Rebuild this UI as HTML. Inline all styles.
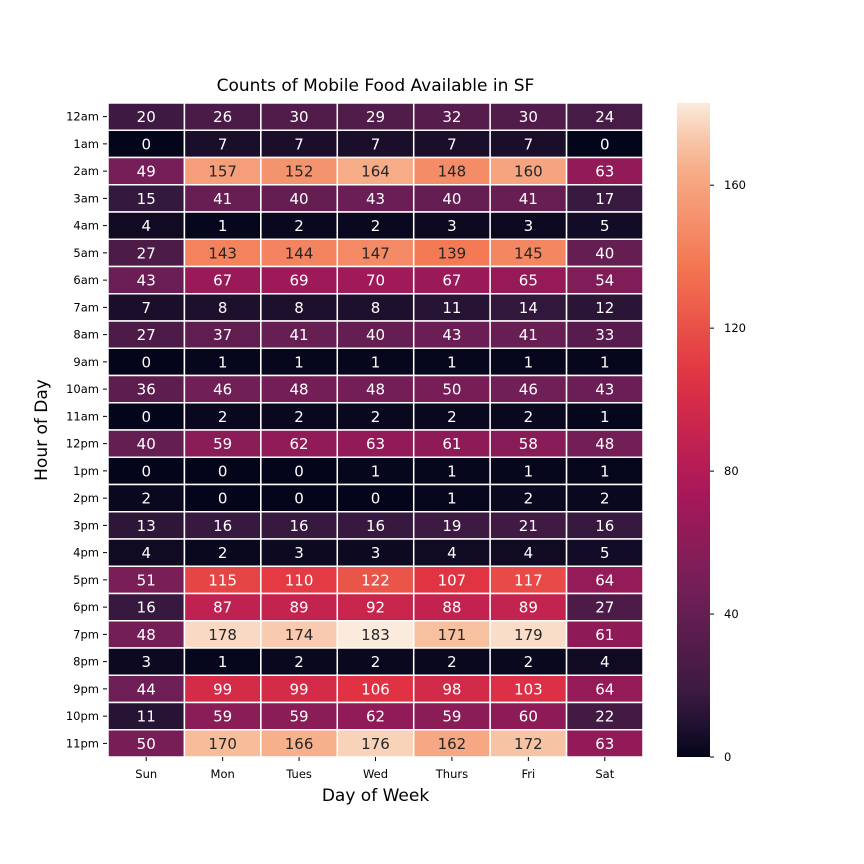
<!DOCTYPE html>
<html><head><meta charset="utf-8"><style>
body{margin:0;background:#fff}
svg{display:block;font-family:"DejaVu Sans","Liberation Sans",sans-serif}
</style></head><body>
<svg id="chart" width="864" height="864" viewBox="0 0 864 864"></svg>
<script>
const days = ["Sun","Mon","Tues","Wed","Thurs","Fri","Sat"];
const hours = ["12am","1am","2am","3am","4am","5am","6am","7am","8am","9am","10am","11am","12pm","1pm","2pm","3pm","4pm","5pm","6pm","7pm","8pm","9pm","10pm","11pm"];
const counts = [
[20,26,30,29,32,30,24],
[0,7,7,7,7,7,0],
[49,157,152,164,148,160,63],
[15,41,40,43,40,41,17],
[4,1,2,2,3,3,5],
[27,143,144,147,139,145,40],
[43,67,69,70,67,65,54],
[7,8,8,8,11,14,12],
[27,37,41,40,43,41,33],
[0,1,1,1,1,1,1],
[36,46,48,48,50,46,43],
[0,2,2,2,2,2,1],
[40,59,62,63,61,58,48],
[0,0,0,1,1,1,1],
[2,0,0,0,1,2,2],
[13,16,16,16,19,21,16],
[4,2,3,3,4,4,5],
[51,115,110,122,107,117,64],
[16,87,89,92,88,89,27],
[48,178,174,183,171,179,61],
[3,1,2,2,2,2,4],
[44,99,99,106,98,103,64],
[11,59,59,62,59,60,22],
[50,170,166,176,162,172,63]
];
const cbTicks = [0,40,80,120,160];
const vmin = 0, vmax = 183;

const svg = document.getElementById('chart');
const NS = "http://www.w3.org/2000/svg";
const X0=108, X1=643, Y0=103, Y1=757;
const cw=(X1-X0)/days.length, ch=(Y1-Y0)/hours.length;
const xPos = i => X0 + i*cw;
const yPos = j => Y0 + j*ch;
const stops=[[0,[3,5,26]],[0.083,[53,25,62]],[0.25,[112,31,87]],[0.417,[173,23,89]],[0.583,[225,51,66]],[0.75,[243,118,81]],[0.917,[246,180,143]],[1,[250,235,221]]];
function cmap(v){
  let t=Math.max(0,Math.min(1,(v-vmin)/(vmax-vmin)));
  for(let k=1;k<stops.length;k++){
    if(t<=stops[k][0]){
      const a=stops[k-1],b=stops[k],f=(t-a[0])/(b[0]-a[0]);
      const c=a[1].map((x,i)=>Math.round(x+(b[1][i]-x)*f));
      return `rgb(${c.join(',')})`;
    }
  }
  return 'rgb(250,235,221)';
}
function el(tag,attrs,text){
  const e=document.createElementNS(NS,tag);
  for(const k in attrs)e.setAttribute(k,attrs[k]);
  if(text!==undefined)e.textContent=text;
  svg.appendChild(e);return e;
}
counts.forEach((row,j)=>row.forEach((v,i)=>{
  const r=el('rect',{x:xPos(i),y:yPos(j),width:cw,height:ch,fill:cmap(v),stroke:'#fff','stroke-width':1.5});
  
  
  const t=el('text',{x:xPos(i)+cw/2,y:yPos(j)+ch/2+5.5,'text-anchor':'middle','font-size':15,fill:(v-vmin)/(vmax-vmin)>0.72?'#262626':'#fff'},v);
  
  
}));
hours.forEach((h,j)=>{
  const y=yPos(j)+ch/2;
  el('line',{x1:103,x2:107,y1:y,y2:y,stroke:'#000','stroke-width':1});
  const t=el('text',{x:99,y:y+4,'text-anchor':'end','font-size':11.5,fill:'#000'},h);
  
  
});
days.forEach((d,i)=>{
  const x=xPos(i)+cw/2;
  el('line',{x1:x,x2:x,y1:Y1,y2:Y1+4,stroke:'#000','stroke-width':1});
  const t=el('text',{x:x,y:Y1+21,'text-anchor':'middle','font-size':11.5,fill:'#000'},d);
  
  
});
let t=el('text',{x:375.5,y:91,'text-anchor':'middle','font-size':17},'Counts of Mobile Food Available in SF');

t=el('text',{x:375.5,y:801,'text-anchor':'middle','font-size':17},'Day of Week');

t=el('text',{x:0,y:0,'text-anchor':'middle','font-size':17,transform:'translate(47,430) rotate(-90)'},'Hour of Day');

// colorbar
const CX0=677,CX1=710;
const cbY=v=>Y1-(v-vmin)/(vmax-vmin)*(Y1-Y0);
const defs=el('defs',{});
const lg=document.createElementNS(NS,'linearGradient');
lg.setAttribute('id','cbg');lg.setAttribute('x1','0');lg.setAttribute('x2','0');lg.setAttribute('y1','1');lg.setAttribute('y2','0');
for(let k=0;k<=20;k++){const s=document.createElementNS(NS,'stop');s.setAttribute('offset',k/20);s.setAttribute('stop-color',cmap(vmin+(vmax-vmin)*k/20));lg.appendChild(s);}
defs.appendChild(lg);
const cb=el('rect',{x:CX0,y:Y0,width:CX1-CX0,height:Y1-Y0,fill:'url(#cbg)'});

cbTicks.forEach(v=>{
  const y=cbY(v);
  el('line',{x1:CX1,x2:CX1+4,y1:y,y2:y,stroke:'#000','stroke-width':1});
  const tt=el('text',{x:CX1+14,y:y+4,'font-size':11.5},v);
  
  
});
</script>
</body></html>
